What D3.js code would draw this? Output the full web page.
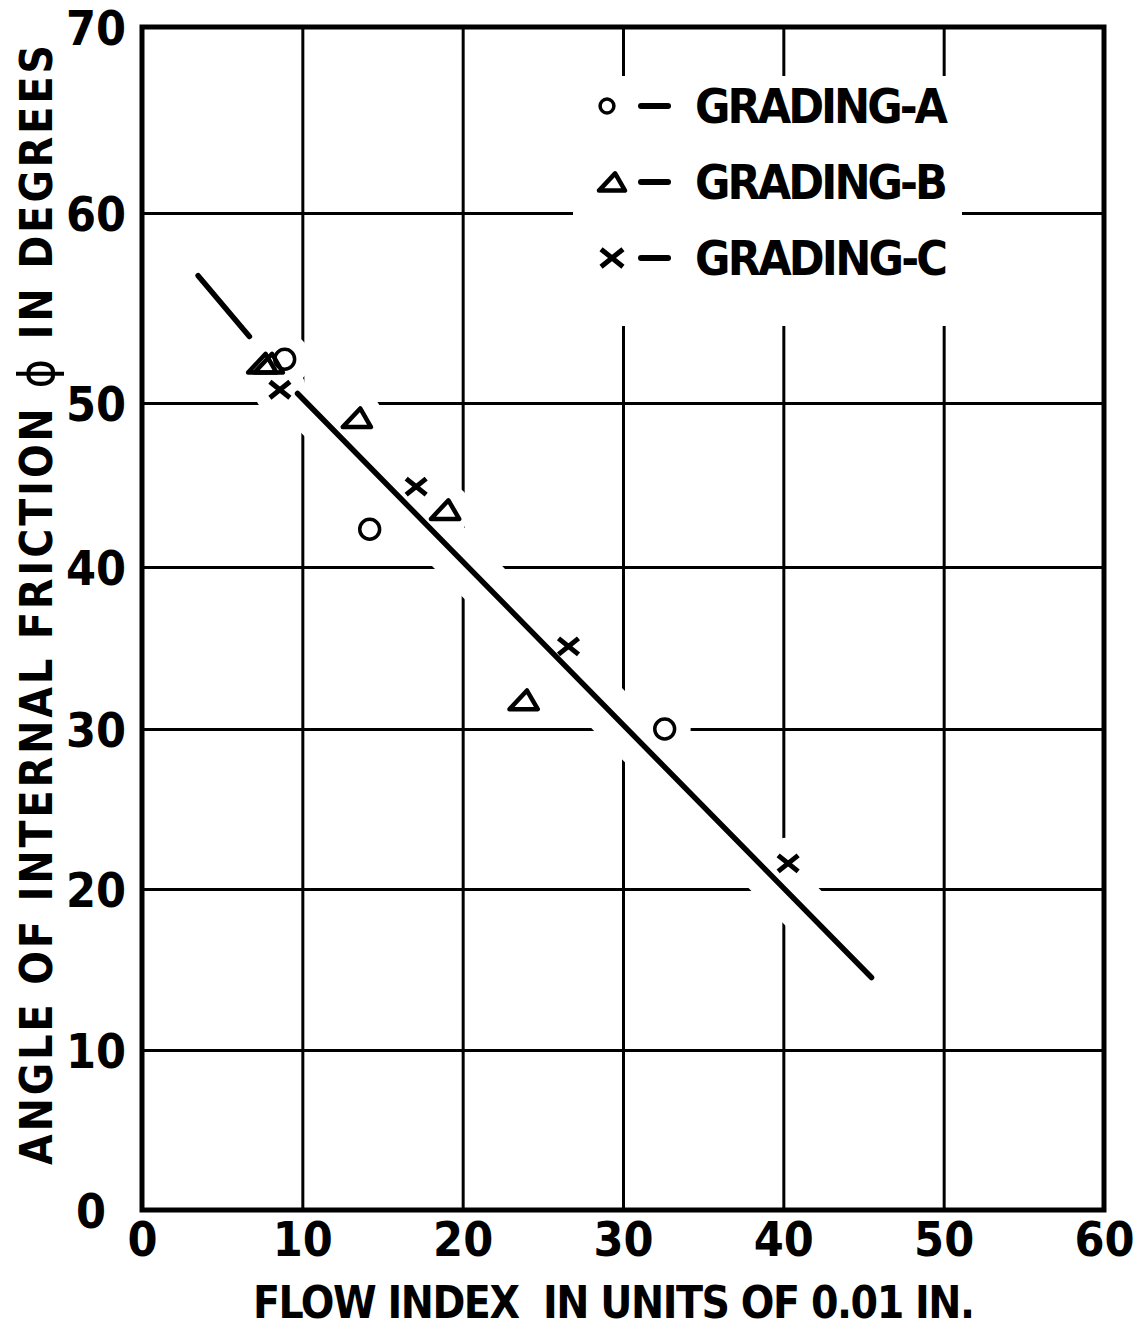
<!DOCTYPE html>
<html>
<head>
<meta charset="utf-8">
<style>
    body { margin: 0; background: #fff; }
    svg { display: block; }
    text {
        font-family: 'Liberation Sans Narrow', 'DejaVu Sans Condensed', Arial, sans-serif;
        font-weight: bold;
        fill: #000;
    }
    .grid .tick line { stroke: #000; stroke-width: 3px; }
    .grid .domain { display: none; }
    .grid .tick text { font-size: 48px; }
</style>
</head>
<body>
<svg width="1138" height="1330"></svg>

<script src="https://d3js.org/d3.v7.min.js"></script>
<script>
    // values
    let xTicks = [0, 10, 20, 30, 40, 50, 60]
    let yTicks = [0, 10, 20, 30, 40, 50, 60, 70]

    let gradingA_x = [8.9, 14.2, 32.6]
    let gradingA_y = [52.3, 42.3, 30.0]

    let gradingB_x = [7.5, 7.9, 13.4, 18.9, 23.8]
    let gradingB_y = [52.1, 52.1, 49.1, 43.5, 31.8]

    let gradingC_x = [8.6, 17.1, 26.6, 40.3]
    let gradingC_y = [50.7, 44.9, 35.1, 21.6]

    // fitted line, drawn in two pieces (broken around the points)
    let fitUpper_x = [3.5, 6.7]
    let fitUpper_y = [56.7, 53.5]
    let fitLower_x = [9.7, 45.5]
    let fitLower_y = [50.5, 14.5]

    let legendLabels = ["GRADING-A", "GRADING-B", "GRADING-C"]

    let svg = d3.select("svg")

    let plotLeft = 142, plotRight = 1104, plotTop = 27, plotBottom = 1210

    let x = d3.scaleLinear()
        .domain([0, 60])
        .range([plotLeft, plotRight])

    // the scanned sheet is stretched a little near the top, so the
    // y scale follows the printed gridlines piece by piece
    let y = d3.scaleLinear()
        .domain(yTicks)
        .range([1210, 1050, 889, 729, 567, 403, 213, plotTop])

    // custom marker shapes: flat triangle and x
    let flatTriangle = {
        draw(ctx, size) {
            let w = Math.sqrt(size)
            let h = w * 0.66
            ctx.moveTo(-w / 2, h / 2)
            ctx.lineTo(w * 0.12, -h / 2)
            ctx.lineTo(w / 2, h / 2)
            ctx.closePath()
        }
    }
    let cross = {
        draw(ctx, size) {
            let r = Math.sqrt(size) / 2
            ctx.moveTo(-r, -r * 0.8)
            ctx.lineTo(r, r * 0.8)
            ctx.moveTo(r, -r * 0.8)
            ctx.lineTo(-r, r * 0.8)
        }
    }

    // gridlines + tick labels
    let xAxis = d3.axisBottom(x)
        .tickValues(xTicks)
        .tickSize(-(plotBottom - plotTop))
        .tickPadding(14)
        .tickFormat(d3.format("d"))

    let yAxis = d3.axisLeft(y)
        .tickValues(yTicks)
        .tickSize(-(plotRight - plotLeft))
        .tickPadding(16)
        .tickFormat(d3.format("d"))

    let xg = svg.append("g")
        .attr("class", "grid x")
        .attr("transform", `translate(0,${plotBottom})`)
        .call(xAxis)
    xg.selectAll(".tick text").attr("dy", "0.66em")

    let yg = svg.append("g")
        .attr("class", "grid y")
        .attr("transform", `translate(${plotLeft},0)`)
        .call(yAxis)
    yg.selectAll(".tick text")
        .attr("dy", "0.36em")
        .attr("dx", d => d == 0 ? -20 : 0)

    // white breaks in the gridlines around the fitted line, points and legend
    let points = []
    gradingA_x.forEach((v, i) => points.push({ x: v, y: gradingA_y[i], g: "A" }))
    gradingB_x.forEach((v, i) => points.push({ x: v, y: gradingB_y[i], g: "B" }))
    gradingC_x.forEach((v, i) => points.push({ x: v, y: gradingC_y[i], g: "C" }))

    let breaks = svg.append("g")
    breaks.append("line")
        .attr("x1", x(fitLower_x[0])).attr("y1", y(fitLower_y[0]))
        .attr("x2", x(fitLower_x[1])).attr("y2", y(fitLower_y[1]))
        .style("stroke", "#fff")
        .style("stroke-width", 50)
    breaks.selectAll("circle")
        .data(points)
        .join("circle")
        .attr("cx", d => x(d.x))
        .attr("cy", d => y(d.y))
        .attr("r", 26)
        .style("fill", "#fff")
    breaks.append("rect")
        .attr("x", 573).attr("y", 76)
        .attr("width", 389).attr("height", 250)
        .style("fill", "#fff")

    // frame
    svg.append("rect")
        .attr("x", plotLeft).attr("y", plotTop)
        .attr("width", plotRight - plotLeft).attr("height", plotBottom - plotTop)
        .style("fill", "none")
        .style("stroke", "#000")
        .style("stroke-width", 5)

    // fitted line
    let line = d3.line()
        .x(d => x(d[0]))
        .y(d => y(d[1]))

    svg.append("g")
        .selectAll("path")
        .data([d3.zip(fitUpper_x, fitUpper_y), d3.zip(fitLower_x, fitLower_y)])
        .join("path")
        .attr("d", d => line(d))
        .style("fill", "none")
        .style("stroke", "#000")
        .style("stroke-width", 5.5)
        .style("stroke-linecap", "round")

    // markers
    function markerPath(g, big) {
        if (g == "A") return d3.symbol(d3.symbolCircle, big ? 310 : 150)()
        if (g == "B") return d3.symbol(flatTriangle, big ? 800 : 680)()
        return d3.symbol(cross, big ? 400 : 480)()
    }
    let markerStroke = { A: 3.5, B: 4.5, C: 5 }

    svg.append("g")
        .selectAll("path")
        .data(points)
        .join("path")
        .attr("transform", d => `translate(${x(d.x)},${y(d.y)})`)
        .attr("d", d => markerPath(d.g, true))
        .style("fill", "none")
        .style("stroke", "#000")
        .style("stroke-width", d => markerStroke[d.g])
        .style("stroke-linejoin", "round")

    // legend
    let legend = svg.append("g")
        .selectAll("g")
        .data(legendLabels)
        .join("g")
        .attr("transform", (d, i) => `translate(0,${106 + i * 76})`)

    legend.append("path")
        .attr("transform", (d, i) => `translate(${i == 0 ? 607 : 612},0)`)
        .attr("d", (d, i) => markerPath(["A", "B", "C"][i], false))
        .style("fill", "none")
        .style("stroke", "#000")
        .style("stroke-width", (d, i) => markerStroke[["A", "B", "C"][i]])
        .style("stroke-linejoin", "round")

    legend.append("line")
        .attr("x1", 641).attr("x2", 668)
        .attr("y1", 0).attr("y2", 0)
        .style("stroke", "#000")
        .style("stroke-width", 6)
        .style("stroke-linecap", "round")

    legend.append("text")
        .attr("x", 695)
        .attr("y", 17)
        .attr("textLength", 253)
        .attr("lengthAdjust", "spacing")
        .style("font-size", "48px")
        .text(d => d)

    // axis titles
    svg.append("text")
        .attr("x", 614)
        .attr("y", 1318)
        .attr("text-anchor", "middle")
        .attr("textLength", 722)
        .attr("lengthAdjust", "spacing")
        .style("font-size", "44px")
        .style("white-space", "pre")
        .text("FLOW INDEX  IN UNITS OF 0.01 IN.")

    let yTitle = svg.append("text")
        .attr("transform", "translate(52,605) rotate(-90)")
        .attr("text-anchor", "middle")
        .attr("textLength", 1120)
        .attr("lengthAdjust", "spacing")
        .style("font-size", "44px")
        .style("white-space", "pre")
    yTitle.append("tspan").text("ANGLE OF INTERNAL FRICTION ")
    yTitle.append("tspan").style("font-size", "50px").style("font-weight", "normal").attr("dy", 2).text("ϕ")
    yTitle.append("tspan").attr("dy", -2).text(" IN DEGREES")
</script>
</body>
</html>
